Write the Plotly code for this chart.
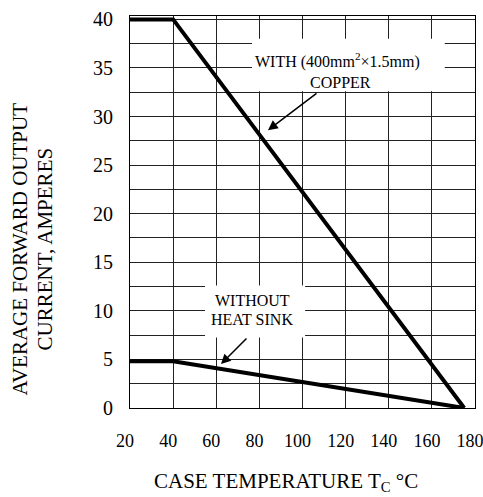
import plotly.graph_objects as go

# Data
temps_copper = [20, 40, 175]
current_copper = [40, 40, 0]
temps_nosink = [20, 40, 175]
current_nosink = [4.8, 4.8, 0]
x_ticks = [20, 40, 60, 80, 100, 120, 140, 160, 180]
y_ticks = [0, 5, 10, 15, 20, 25, 30, 35, 40]

FONT = "Liberation Serif"

fig = go.Figure()
fig.add_trace(go.Scatter(x=temps_copper, y=current_copper, mode="lines",
                         line=dict(color="black", width=4), showlegend=False))
fig.add_trace(go.Scatter(x=temps_nosink, y=current_nosink, mode="lines",
                         line=dict(color="black", width=4), showlegend=False))

# white boxes behind labels (covering gridlines)
fig.add_shape(type="rect", x0=76.6, x1=166, y0=32.6, y1=38.0, layer="between",
              fillcolor="white", line=dict(width=0))
fig.add_shape(type="rect", x0=54.8, x1=101.2, y0=7.25, y1=12.6, layer="between",
              fillcolor="white", line=dict(width=0))

ann = []
ann.append(dict(x=116, y=35.8, text="WITH (400mm<sup>2</sup>×1.5mm)", showarrow=False,
                font=dict(size=16, color="black", family=FONT)))
ann.append(dict(x=117.4, y=33.5, text="COPPER", showarrow=False,
                font=dict(size=16, color="black", family=FONT)))
ann.append(dict(x=76.6, y=11.1, text="WITHOUT", showarrow=False,
                font=dict(size=16, color="black", family=FONT)))
ann.append(dict(x=76.6, y=9.15, text="HEAT SINK", showarrow=False,
                font=dict(size=16, color="black", family=FONT)))
# arrows
ann.append(dict(x=84.0, y=28.6, text="", showarrow=True, ax=50, ay=-38,
                arrowhead=2, arrowsize=1.3, arrowwidth=1.5, arrowcolor="black"))
ann.append(dict(x=62.2, y=4.52, text="", showarrow=True, ax=27, ay=-27,
                arrowhead=2, arrowsize=1.3, arrowwidth=1.5, arrowcolor="black"))
# axis titles
ann.append(dict(xref="paper", yref="paper", x=-0.3174, y=0.4056,
                xanchor="center", yanchor="middle",
                text="AVERAGE FORWARD OUTPUT", textangle=-90,
                showarrow=False, font=dict(size=21, color="black", family=FONT)))
ann.append(dict(xref="paper", yref="paper", x=-0.2478, y=0.4056,
                xanchor="center", yanchor="middle",
                text="CURRENT, AMPERES", textangle=-90,
                showarrow=False, font=dict(size=21, color="black", family=FONT)))
ann.append(dict(xref="paper", yref="paper", x=0.452, y=-0.188,
                xanchor="center", yanchor="middle",
                text="CASE TEMPERATURE T<sub>C</sub> °C",
                showarrow=False, font=dict(size=21, color="black", family=FONT)))

fig.update_layout(
    width=483, height=497,
    margin=dict(l=130, r=8, t=16, b=89),
    plot_bgcolor="white", paper_bgcolor="white",
    annotations=ann,
    font=dict(family=FONT, color="black"),
)
fig.update_xaxes(range=[20, 180], tickvals=x_ticks, ticktext=[str(v) for v in x_ticks],
                 showgrid=True, gridcolor="#222", gridwidth=1, automargin=False,
                 showline=True, linecolor="black", linewidth=1, mirror=True,
                 ticks="", ticklabelstandoff=16, ticklabelshift=-5,
                 ticklabeloverflow="allow", zeroline=False,
                 tickfont=dict(size=18, family=FONT, color="black"))
fig.update_yaxes(range=[0, 40.35], tickvals=y_ticks, automargin=False,
                 showgrid=True, gridcolor="#222", gridwidth=1,
                 showline=True, linecolor="black", linewidth=1, mirror=True,
                 ticks="", ticklabelstandoff=12, zeroline=False,
                 tickfont=dict(size=20, family=FONT, color="black"),
                 minor=dict(dtick=2.5, tick0=0, showgrid=True, gridcolor="#222", gridwidth=1))

# remove the browser's default 8px body margin and any scrollbars
fig.write_html("out.html", config={"displayModeBar": False},
               post_script="document.body.style.margin='0';document.body.style.overflow='hidden';")
